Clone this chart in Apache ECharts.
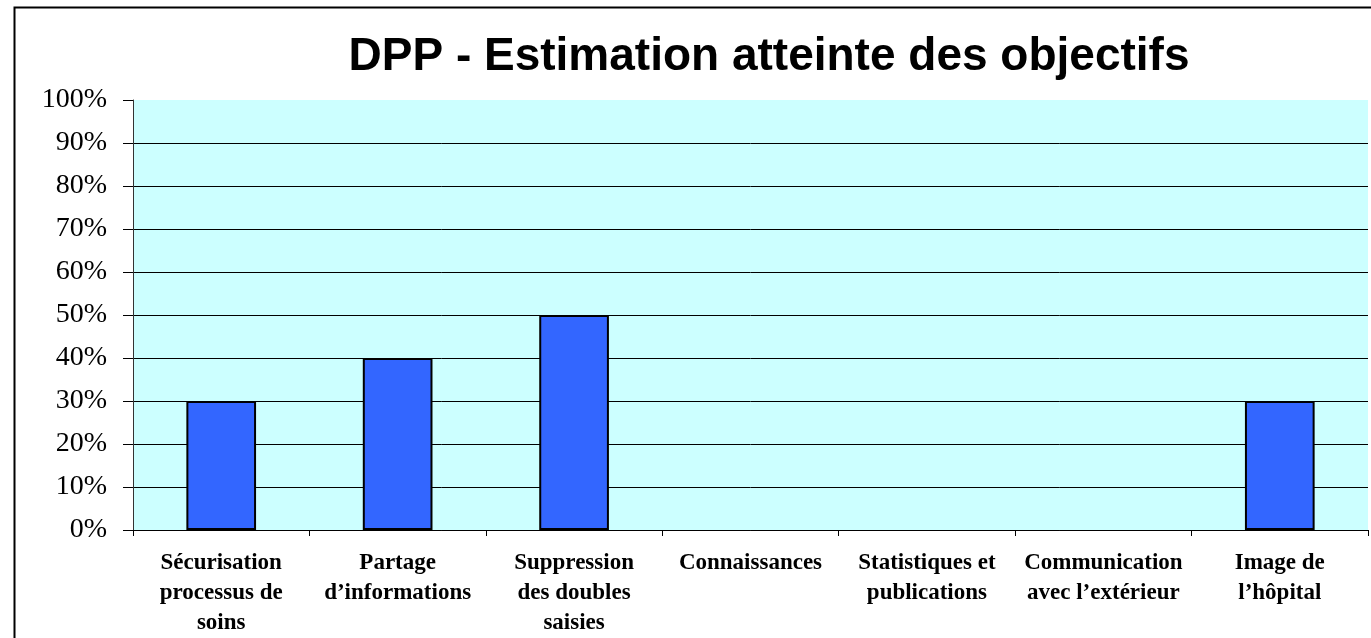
<!DOCTYPE html>
<html>
<head>
<meta charset="utf-8">
<script src="https://cdn.jsdelivr.net/npm/echarts@6/dist/echarts.min.js"></script>
<style>
  html, body { margin: 0; padding: 0; background: #fff; }
  #chart { width: 1371px; height: 638px; }
</style>
</head>
<body>
<div id="chart"></div>
<script>
// données
var categories = [
    'Sécurisation\nprocessus de\nsoins',
    'Partage\nd’informations',
    'Suppression\ndes doubles\nsaisies',
    'Connaissances',
    'Statistiques et\npublications',
    'Communication\navec l’extérieur',
    'Image de\nl’hôpital'
];
var values = [30, 40, 50, 0, 0, 0, 30];
var yTicks = [0, 10, 20, 30, 40, 50, 60, 70, 80, 90, 100];

var chart = echarts.init(document.getElementById('chart'));

// couleurs des lignes de grille : pas de ligne à 100%
var gridColors = yTicks.map(function(v){
    return v === 100 ? 'rgba(0,0,0,0)' : '#000';
});

// les barres à 0 ne sont pas dessinées (pas de bordure)
var barData = values.map(function(v){
    return {
        value: v,
        itemStyle: v === 0 ? { borderWidth: 0, color: 'rgba(0,0,0,0)' } : {}
    };
});

var option = {
    backgroundColor: '#fff',
    animation: false,
    title: {
        text: 'DPP - Estimation atteinte des objectifs',
        left: 769,
        textAlign: 'center',
        top: 34,
        padding: 0,
        textStyle: {
            fontFamily: 'Liberation Sans, Arial, sans-serif',
            fontWeight: 'bold',
            fontSize: 46,
            color: '#000'
        }
    },
    graphic: [{
        type: 'rect',
        shape: { x: 14.5, y: 7.5, width: 1400, height: 700 },
        style: { fill: 'none', stroke: '#000', lineWidth: 2 },
        silent: true
    }],
    grid: {
        left: 133,
        right: 3,
        top: 100,
        bottom: 107,
        show: true,
        backgroundColor: '#CCFFFF',
        borderWidth: 0
    },
    xAxis: {
        type: 'category',
        data: categories,
        axisLine: { show: true, lineStyle: { color: '#000', width: 1 } },
        axisTick: { show: true, length: 6, lineStyle: { color: '#000' } },
        axisLabel: {
            interval: 0,
            margin: 18,
            fontFamily: 'Liberation Serif, Times New Roman, serif',
            fontWeight: 'bold',
            fontSize: 23,
            lineHeight: 30,
            color: '#000'
        }
    },
    yAxis: {
        type: 'value',
        min: 0,
        max: 100,
        interval: 10,
        axisLine: { show: true, lineStyle: { color: '#333', width: 1 } },
        axisTick: { show: true, inside: false, length: 10, lineStyle: { color: '#000' } },
        axisLabel: {
            margin: 26,
            formatter: '{value}%',
            fontFamily: 'Liberation Serif, Times New Roman, serif',
            fontSize: 28,
            color: '#000'
        },
        splitLine: { show: true, lineStyle: { color: gridColors, width: 1 } }
    },
    series: [{
        type: 'bar',
        data: barData,
        barWidth: '39.5%',
        itemStyle: {
            color: '#3366FF',
            borderColor: '#000',
            borderWidth: 2
        }
    }]
};

chart.setOption(option);
</script>
</body>
</html>
